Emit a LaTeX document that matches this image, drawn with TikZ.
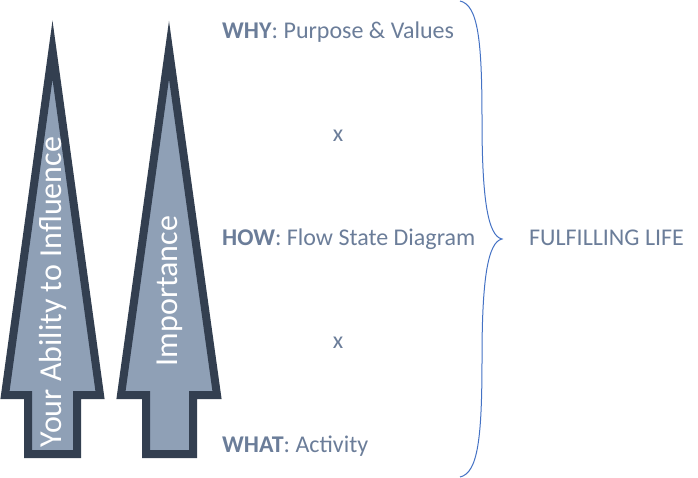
\documentclass[tikz,border=0pt]{standalone}
\usepackage{fontspec}
\setmainfont{Carlito}
\usetikzlibrary{positioning}
\definecolor{arrowfill}{HTML}{8FA0B6}
\definecolor{arrowline}{HTML}{333F50}
\definecolor{labeltext}{HTML}{6B7D99}
\definecolor{bracecol}{HTML}{4472C4}
\tikzset{
    bigarrow/.style={fill=arrowfill,draw=arrowline,line width=8pt,line join=miter,miter limit=12},
    arrowtext/.style={text=white,rotate=90,font=\fontsize{32}{36}\selectfont,inner sep=0pt},
    level/.style={text=labeltext,font=\fontsize{24}{28}\selectfont,anchor=base west,inner sep=0pt},
    times/.style={text=labeltext,font=\fontsize{24}{28}\selectfont,anchor=base,inner sep=0pt}
}
\begin{document}
\begin{tikzpicture}[x=1pt,y=-1pt]
    \useasboundingbox (0,0) rectangle (698,478);
    
    \draw[bigarrow] (52.5,50) -- (100,395) -- (77,395) -- (77,454) -- (28,454) -- (28,395) -- (5,395) -- cycle;
    \draw[bigarrow] (169,50) -- (217,395) -- (193,395) -- (193,454) -- (146,454) -- (146,395) -- (121,395) -- cycle;
    \node[arrowtext] (Ability) at (53,292) {Your Ability to Influence};
    \node[arrowtext] (Import) at (170,291) {Importance};
    
    \node[level] (Why) at (222,39) {\textbf{WHY}: Purpose \& Values};
    \node[times] (X1) at (338,142) {x};
    \node[level] (How) at (222,245) {\textbf{HOW}: Flow State Diagram};
    \node[times] (X2) at (338,348) {x};
    \node[level] (What) at (222,452) {\textbf{WHAT}: Activity};
    
    \coordinate (BraceTop) at (460,1);
    \coordinate (BraceTip) at (502,239);
    \coordinate (BraceBot) at (460,477);
    \draw[bracecol,line width=1pt] (BraceTop) .. controls (478,5) and (482,40) .. (482,120)
        .. controls (482,200) and (488,236) .. (BraceTip)
        .. controls (488,242) and (482,278) .. (482,358)
        .. controls (482,438) and (478,473) .. (BraceBot);
    \node[level] (Life) at (529,245) {FULFILLING LIFE};
\end{tikzpicture}
\end{document}
